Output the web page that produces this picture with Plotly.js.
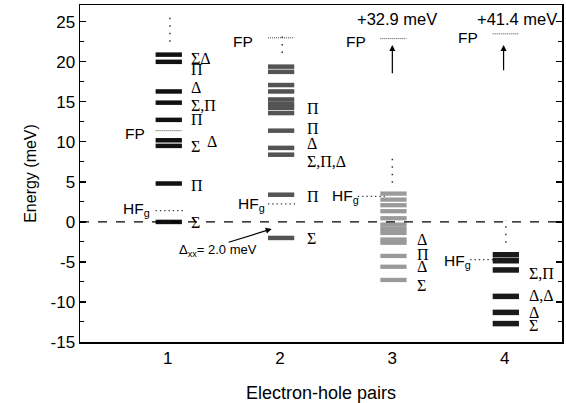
<!DOCTYPE html>
<html><head><meta charset="utf-8">
<script src="https://cdn.plot.ly/plotly-3.0.1.min.js"></script>
<style>html,body{margin:0;padding:0;background:#fff}#chart{width:566px;height:403px}</style>
</head><body><div id="chart"></div>
<script>
// Energy levels (meV) for each number of electron-hole pairs
const pairs = [1, 2, 3, 4];
const levels1 = [20.9, 20.0, 16.3, 14.9, 12.75, 10.2, 9.5, 4.8, 0.0];
const levels2 = [19.4, 18.75, 17.1, 16.3, 15.3, 14.75, 14.25, 13.6, 11.4, 9.25, 8.4, 3.4, -2.0];
const levels3 = [3.54, 2.79, 2.09, 1.34, 0.46, -0.34, -0.875, -1.375, -2.2, -2.6, -4.25, -5.6, -7.25];
const levels4 = [-4.1, -4.85, -6.0, -9.3, -11.3, -12.7];
const fpLevels = [11.4, 23.0, 22.9, 23.5];
const hfLevels = [1.4, 2.25, 3.2, -4.7];
const offScale = ["", "", "+32.9 meV", "+41.4 meV"];
const deltaXX = 2.0;
// symmetry labels: [pair, energy, text]
const symLabels = [
  [1, 20.4, "ΣΔ"], [1, 19.0, "Π"], [1, 16.75, "Δ"], [1, 14.6, "Σ,Π"], [1, 12.75, "Π"],
  [1, 9.4, "Σ"], [1, 4.6, "Π"], [1, -0.1, "Σ"],
  [2, 14.2, "Π"], [2, 11.7, "Π"], [2, 9.8, "Δ"], [2, 7.5, "Σ,Π,Δ"], [2, 3.2, "Π"], [2, -2.1, "Σ"],
  [3, -2.25, "Δ"], [3, -4.1, "Π"], [3, -5.6, "Δ"], [3, -7.9, "Σ"],
  [4, -6.4, "Σ,Π"], [4, -9.25, "Δ,Δ"], [4, -11.3, "Δ"], [4, -12.9, "Σ"]
];
const xTicks = [1, 2, 3, 4];
const yTicks = [-15, -10, -5, 0, 5, 10, 15, 20, 25];

const allLevels = [levels1, levels2, levels3, levels4];
const colors = ["#111111", "#545454", "#9a9a9a", "#1a1a1a"];
const widths = [4.5, 4.5, 4.3, 5.5];
const half = 0.117, shift = 0.01;

const traces = [];
allLevels.forEach((lv, i) => {
  const c = pairs[i] + shift; const xs = [], ys = [];
  lv.forEach(v => { xs.push(c - half, c + half, null); ys.push(v, v, null); });
  traces.push({x: xs, y: ys, mode: 'lines', line: {color: colors[i], width: widths[i]}, connectgaps: false, hoverinfo: 'skip'});
});
// FP dotted levels
(function(){
  const xs = [], ys = [];
  fpLevels.forEach((v, i) => { const c = pairs[i] + shift; xs.push(c - half, c + half, null); ys.push(v, v, null); });
  traces.push({x: xs, y: ys, mode: 'lines', line: {color: '#444', width: 1, dash: '1px,1px'}, hoverinfo: 'skip'});
})();
// HFg dotted levels
(function(){
  const xs = [], ys = [];
  hfLevels.forEach((v, i) => {
    const c = pairs[i] + shift;
    if (i < 2) { xs.push(c - half, c + half + 0.02, null); }
    else { xs.push(c - half - 0.2, c - half + 0.04, null); }
    ys.push(v, v, null);
  });
  traces.push({x: xs, y: ys, mode: 'lines', line: {color: '#333', width: 1.3, dash: '1.3px,3px'}, hoverinfo: 'skip'});
})();
// vertical dotted continuation marks
(function(){
  const spans = [[1.02, 22.5, 25.5], [2.02, 21.1, 23.75], [3.0, 4.9, 8.0], [4.01, -2.6, 0.25]];
  const xs = [], ys = [];
  spans.forEach(s => { xs.push(s[0], s[0], null); ys.push(s[1], s[2], null); });
  traces.push({x: xs, y: ys, mode: 'lines', line: {color: '#333', width: 1.5, dash: '1.5px,6px'}, hoverinfo: 'skip'});
})();

const serif = "Liberation Serif, Times New Roman, serif";
const sans = "Liberation Sans, Arial, sans-serif";
const ann = [];
symLabels.forEach(s => {
  const xl = {1: 1.19, 2: 2.22, 3: 3.2, 4: 4.195}[s[0]];
  ann.push({x: xl, y: s[1], text: s[2], showarrow: false, xanchor: 'left', yanchor: 'middle', font: {family: serif, size: 16, color: '#000'}});
});
ann.push({x: 1.33, y: 10.1, text: "Δ", showarrow: false, xanchor: 'left', yanchor: 'middle', font: {family: serif, size: 16, color: '#000'}});
// FP labels
const fpPos = [[0.706, 11.1], [1.668, 22.5], [2.674, 22.5], [3.676, 23.06]];
fpPos.forEach(p => ann.push({x: p[0], y: p[1], text: "FP", showarrow: false, font: {family: sans, size: 15.5, color: '#000'}}));
// HFg labels
const hfPos = [[0.86, 1.6], [1.88, 2.2], [2.72, 3.2], [3.72, -4.9]];
hfPos.forEach(p => ann.push({x: p[0], y: p[1], text: "HF<sub>g</sub>", showarrow: false, xanchor: 'right', yanchor: 'middle', font: {family: sans, size: 15.5, color: '#000'}}));
// off-scale FP arrows
[[3.0, 18.4], [3.99, 18.75]].forEach(a => ann.push({x: a[0], y: 22.1, ax: a[0], ay: a[1], axref: 'x', ayref: 'y', text: '', showarrow: true, arrowhead: 2, arrowsize: 1, arrowwidth: 1.2, arrowcolor: '#000'}));
ann.push({x: 3.043, y: 25.3, text: offScale[2], showarrow: false, font: {family: sans, size: 16.5, color: '#000'}});
ann.push({x: 4.11, y: 25.3, text: offScale[3], showarrow: false, font: {family: sans, size: 16.5, color: '#000'}});
// Delta_xx annotation
ann.push({x: 1.926, y: -0.875, ax: 1.53, ay: -2.6, axref: 'x', ayref: 'y', text: '', showarrow: true, arrowhead: 2, arrowsize: 1, arrowwidth: 1.2, arrowcolor: '#000'});
ann.push({x: 1.45, y: -3.6, text: "Δ<sub>xx</sub>= " + deltaXX.toFixed(1) + " meV", showarrow: false, font: {family: sans, size: 13, color: '#000'}});

const layout = {
  width: 566, height: 403,
  margin: {l: 80, r: 4, t: 5, b: 61},
  paper_bgcolor: '#fff', plot_bgcolor: '#fff',
  showlegend: false,
  xaxis: {range: [0.22, 4.51], tickvals: xTicks, ticktext: xTicks.map(String), ticks: '', showgrid: false, zeroline: false,
    showline: true, mirror: true, linecolor: '#000', linewidth: 1.5,
    tickfont: {family: sans, size: 17, color: '#000'},
    title: {text: 'Electron-hole pairs', font: {family: sans, size: 18, color: '#000'}, standoff: 20}},
  yaxis: {range: [-15, 27.1], tickvals: yTicks, ticktext: yTicks.map(String), ticks: 'inside', ticklen: 6, tickwidth: 1.2, tickcolor: '#000',
    minor: {tickvals: [-12.5, -7.5, -2.5, 2.5, 7.5, 12.5, 17.5, 22.5], ticks: 'inside', ticklen: 4, tickcolor: '#000', tickwidth: 1},
    showgrid: false, zeroline: false, showline: true, mirror: 'ticks', linecolor: '#000', linewidth: 1.5,
    tickfont: {family: sans, size: 17, color: '#000'},
    title: {text: 'Energy (meV)', font: {family: sans, size: 16, color: '#000'}, standoff: 10}},
  shapes: [{type: 'line', xref: 'paper', x0: 0, x1: 1, yref: 'y', y0: 0, y1: 0, line: {color: '#000', width: 1.2, dash: 'dash'}}],
  annotations: ann
};
Plotly.newPlot('chart', traces, layout, {staticPlot: true, displayModeBar: false});
</script></body></html>
